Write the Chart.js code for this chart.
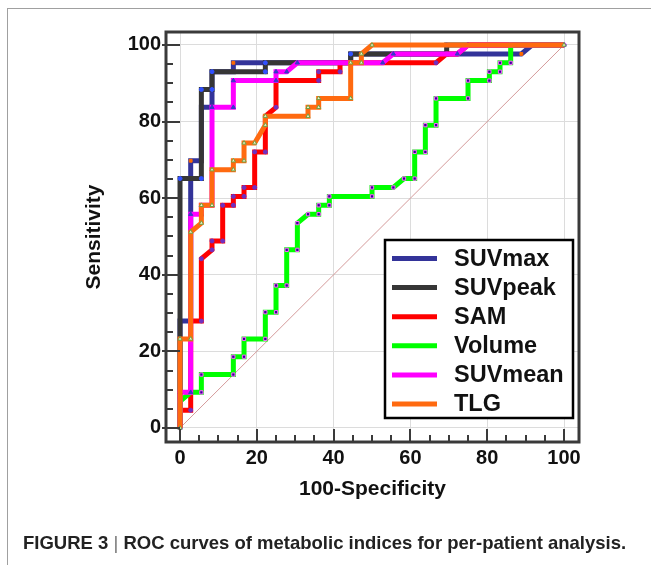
<!DOCTYPE html>
<html><head><meta charset="utf-8">
<script src="https://cdn.jsdelivr.net/npm/chart.js@4.4.1/dist/chart.umd.min.js"></script>
<style>
html,body{margin:0;padding:0;background:#fff;width:651px;height:565px;overflow:hidden;}
#wrap{position:relative;width:651px;height:565px;}
#frame{position:absolute;left:7px;top:8px;width:700px;height:600px;border-left:1.5px solid #a0a0a0;border-top:1.5px solid #a0a0a0;}
#c{position:absolute;left:0;top:0;}
#cap{position:absolute;left:23px;top:534px;font-family:'Liberation Sans',Arial,sans-serif;font-size:18.5px;line-height:1;color:#222;white-space:nowrap;font-weight:bold;}
#cap .bar{font-weight:normal;color:#777;}
</style></head>
<body><div id="wrap"><div id="frame"></div><canvas id="c" width="651" height="565"></canvas>
<div id="cap">FIGURE 3 <span class="bar">|</span> ROC curves of metabolic indices for per-patient analysis.</div></div>
<script>
// ---- data (100-Specificity = x, Sensitivity = y) ----
const categories = ['SUVmax','SUVpeak','SAM','Volume','SUVmean','TLG'];
const xTicks = [0,20,40,60,80,100];
const yTicks = [0,20,40,60,80,100];

const suvmaxX = [0,0,2.78,2.78,5.56,5.56,8.33,8.33,13.89,13.89,22.22,44.44,44.44,88.89,91.67,100];
const suvmaxY = [0,27.91,27.91,69.77,69.77,83.72,83.72,93.02,93.02,95.35,95.35,95.35,97.67,97.67,100,100];

const suvpeakX = [0,0,5.56,5.56,8.33,8.33,22.22,22.22,44.44,44.44,69.44,69.44,100];
const suvpeakY = [0,65.12,65.12,88.37,88.37,93.02,93.02,95.35,95.35,97.67,97.67,100,100];

const samX = [0,0,2.78,2.78,5.56,5.56,8.33,8.33,11.11,11.11,13.89,13.89,16.67,16.67,19.44,19.44,22.22,22.22,25,25,36.11,36.11,41.67,41.67,66.67,69.44,72.22,75,100];
const samY = [0,4.65,4.65,27.91,27.91,44.19,46.51,48.84,48.84,58.14,58.14,60.47,60.47,62.79,62.79,72.09,72.09,81.4,83.72,90.7,90.7,93.02,93.02,95.35,95.35,97.67,97.67,100,100];

const volumeX = [0,0,2.78,5.56,5.56,13.89,13.89,16.67,16.67,22.22,22.22,25,25,27.78,27.78,30.56,30.56,33.33,36.11,36.11,38.89,38.89,50,50,55.56,58.33,61.11,61.11,63.89,63.89,66.67,66.67,75,75,80.56,80.56,83.33,83.33,86.11,86.11,100];
const volumeY = [0,6.98,9.3,9.3,13.95,13.95,18.6,18.6,23.26,23.26,30.23,30.23,37.21,37.21,46.51,46.51,53.49,55.81,55.81,58.14,58.14,60.47,60.47,62.79,62.79,65.12,65.12,72.09,72.09,79.07,79.07,86.05,86.05,90.7,90.7,93.02,93.02,95.35,95.35,100,100];

const suvmeanX = [0,0,2.78,2.78,5.56,5.56,8.33,8.33,13.89,13.89,25,25,27.78,30.56,52.78,55.56,72.22,75,100];
const suvmeanY = [0,9.3,9.3,55.81,55.81,58.14,58.14,83.72,83.72,90.7,90.7,93.02,93.02,95.35,95.35,97.67,97.67,100,100];

const tlgX = [0,0,2.78,2.78,5.56,5.56,8.33,8.33,13.89,13.89,16.67,16.67,19.44,22.22,22.22,33.33,33.33,36.11,36.11,44.44,44.44,47.22,47.22,50,100];
const tlgY = [0,23.26,23.26,51.16,53.49,58.14,58.14,67.44,67.44,69.77,69.77,74.42,74.42,79.07,81.4,81.4,83.72,83.72,86.05,86.05,95.35,95.35,97.67,100,100];

const refX = [0,100];
const refY = [0,100];

// ---- styles ----
const seriesX = [suvmaxX, suvpeakX, samX, volumeX, suvmeanX, tlgX];
const seriesY = [suvmaxY, suvpeakY, samY, volumeY, suvmeanY, tlgY];
const lineColors = ['#333399','#363636','#ff0000','#00ff00','#ff00ff','#ff6a10'];
const pStyles = ['rect','circle','circle','rect','triangle','triangle'];
const pFill = ['#ff6a00','#3050ff','#7030c0','#330099','#3838c8','#f0f0d0'];
const pBorder = ['#ff6a00','#3050ff','#7030c0','#ff60ff','#3838c8','#70a040'];
const pRad = [2,2,2,2.3,2.4,2.4];
const drawOrder = [6,5,4,3,2,1];

const datasets = categories.map((name,i)=>({
  label:name,
  data: seriesX[i].map((x,j)=>({x:x, y:seriesY[i][j]})),
  showLine:true,
  borderColor:lineColors[i],
  backgroundColor:lineColors[i],
  borderWidth:5,
  borderJoinStyle:'miter',
  borderCapStyle:'butt',
  tension:0,
  pointStyle:pStyles[i],
  pointRadius:pRad[i],
  pointBackgroundColor:pFill[i],
  pointBorderColor:pBorder[i],
  pointBorderWidth:1,
  order:drawOrder[i]
}));
datasets.push({
  label:'reference',
  data: refX.map((x,j)=>({x:x, y:refY[j]})),
  showLine:true, borderColor:'#d49a9a', borderWidth:1, pointRadius:0, order:10
});

const decor = {
  id:'decor',
  afterDraw(chart){
    const {ctx, chartArea:ca, scales:{x, y}} = chart;
    ctx.save();
    // minor / major ticks
    ctx.strokeStyle = '#3a3a3a';
    ctx.lineWidth = 2;
    for (let v = 0; v <= 100; v += 5){
      const major = v % 20 === 0;
      const px = Math.round(x.getPixelForValue(v));
      ctx.beginPath(); ctx.moveTo(px, ca.bottom); ctx.lineTo(px, ca.bottom - (major ? 13 : 7)); ctx.stroke();
      const py = Math.round(y.getPixelForValue(v));
      ctx.beginPath(); ctx.moveTo(ca.left - (major ? 4 : 0), py); ctx.lineTo(ca.left + (major ? 14 : 7), py); ctx.stroke();
    }
    // frame
    ctx.lineWidth = 3;
    ctx.strokeRect(ca.left, ca.top, ca.right - ca.left, ca.bottom - ca.top);
    // legend
    const L = 385, T = 240, R = 573, B = 418;
    ctx.fillStyle = '#fff';
    ctx.fillRect(L, T, R - L, B - T);
    ctx.strokeStyle = '#000';
    ctx.lineWidth = 2.5;
    ctx.strokeRect(L, T, R - L, B - T);
    ctx.font = "bold 23.5px 'Liberation Sans', Arial, sans-serif";
    ctx.textBaseline = 'middle';
    ctx.textAlign = 'left';
    categories.forEach((name, i) => {
      const cy = 258.5 + i * 29.1;
      ctx.strokeStyle = lineColors[i];
      ctx.lineWidth = 5;
      ctx.beginPath(); ctx.moveTo(392, cy); ctx.lineTo(437, cy); ctx.stroke();
      ctx.fillStyle = '#111';
      ctx.fillText(name, 454, cy + 1);
    });
    ctx.restore();
  }
};

Chart.defaults.font.family = "'Liberation Sans', Arial, sans-serif";

new Chart(document.getElementById('c'), {
  type:'scatter',
  data:{datasets},
  options:{
    responsive:false, animation:false, devicePixelRatio:1,
    layout:{padding:{left:0, top:32, right:72, bottom:0}},
    plugins:{legend:{display:false}, tooltip:{enabled:false}},
    scales:{
      x:{
        type:'linear', min:-3.65, max:103.9,
        afterBuildTicks:s=>{ s.ticks = xTicks.map(v=>({value:v})); },
        afterFit:s=>{ s.height = 123; s.paddingLeft = 0; s.paddingRight = 0; },
        grid:{color:'#dcdcdc', lineWidth:1, drawTicks:false},
        border:{display:false},
        ticks:{padding:4, color:'#111', font:{size:20, weight:'bold'}, maxRotation:0, autoSkip:false},
        title:{display:true, text:'100-Specificity', color:'#111', font:{size:21, weight:'bold'}, padding:{top:0, bottom:63}}
      },
      y:{
        type:'linear', min:-3.66, max:103.39,
        afterBuildTicks:s=>{ s.ticks = yTicks.map(v=>({value:v})); },
        afterFit:s=>{ s.width = 166; s.paddingTop = 0; s.paddingBottom = 0; },
        grid:{color:'#dcdcdc', lineWidth:1, drawTicks:false},
        border:{display:false},
        ticks:{padding:5, color:'#111', font:{size:20, weight:'bold'}, autoSkip:false},
        title:{display:true, text:'Sensitivity', color:'#111', font:{size:21, weight:'bold'}, padding:{top:82, bottom:0}}
      }
    }
  },
  plugins:[decor]
});
</script>
</body></html>
